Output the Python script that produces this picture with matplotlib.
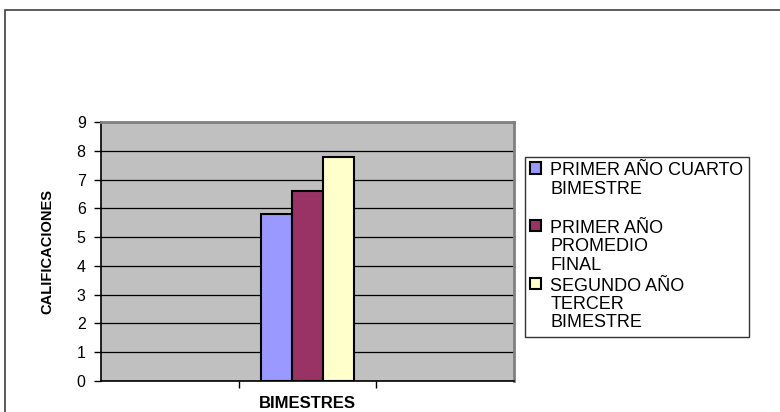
import matplotlib
matplotlib.use('Agg')
import matplotlib.pyplot as plt
from matplotlib.patches import Rectangle

plt.rcParams['font.family'] = ['Liberation Sans', 'DejaVu Sans']

series = ['PRIMER AÑO CUARTO\nBIMESTRE\n',
          'PRIMER AÑO\nPROMEDIO\nFINAL',
          'SEGUNDO AÑO\nTERCER\nBIMESTRE']
valores = [5.8, 6.6, 7.8]
colores = ['#9999FF', '#993366', '#FFFFCC']
yticks = list(range(0, 10))

fig = plt.figure(figsize=(7.8, 4.12), dpi=100)
ax = fig.add_axes([101/780, 1-381/412, 413/780, 259/412])
ax.set_facecolor('#C0C0C0')

ancho = 0.223
for i, (s, v, c) in enumerate(zip(series, valores, colores)):
    ax.bar((i-1)*ancho, v, width=ancho, color=c, edgecolor='black', linewidth=1.5, label=s, zorder=3)

ax.set_xlim(-1.5, 1.5)
ax.set_ylim(0, 9)
ax.set_yticks(yticks)
ax.set_xticks([-0.5, 0.5])
ax.set_xticklabels([])
ax.yaxis.grid(True, color='black', linewidth=0.9, zorder=0)
ax.set_axisbelow(True)
ax.tick_params(axis='y', direction='out', length=5, width=1, labelsize=11.5, pad=6)
ax.tick_params(axis='x', direction='out', length=5, width=1)
for s in ['top', 'right']:
    ax.spines[s].set_color('#808080')
    ax.spines[s].set_linewidth(2)
for s in ['left', 'bottom']:
    ax.spines[s].set_color('black')
    ax.spines[s].set_linewidth(1.2)

ax.set_ylabel('CALIFICACIONES', fontsize=10.5, fontweight='bold', labelpad=16)
ax.set_xlabel('BIMESTRES', fontsize=12, fontweight='bold')
ax.xaxis.set_label_coords(0.5, -0.058)

leg = ax.legend(loc='upper left', bbox_to_anchor=(525/780, 1-157/412), bbox_transform=fig.transFigure,
                fontsize=13, frameon=True, fancybox=False, edgecolor='black', handlelength=0.6,
                handleheight=0.6, handletextpad=0.5, borderpad=0.3, labelspacing=0.22, borderaxespad=0)
leg.get_frame().set_linewidth(1)
for t in leg.get_texts():
    t.set_linespacing(1.1)
# cuadro de color alineado con la primera linea
for col in leg._legend_handle_box.get_children():
    for fila in col.get_children():
        fila.align = 'top'

fig.add_artist(Rectangle((5/780, -0.2), 1.2, 1.2-10/412, transform=fig.transFigure,
                         fill=False, edgecolor='#404040', linewidth=1.2))

fig.savefig('out.png', dpi=100)
